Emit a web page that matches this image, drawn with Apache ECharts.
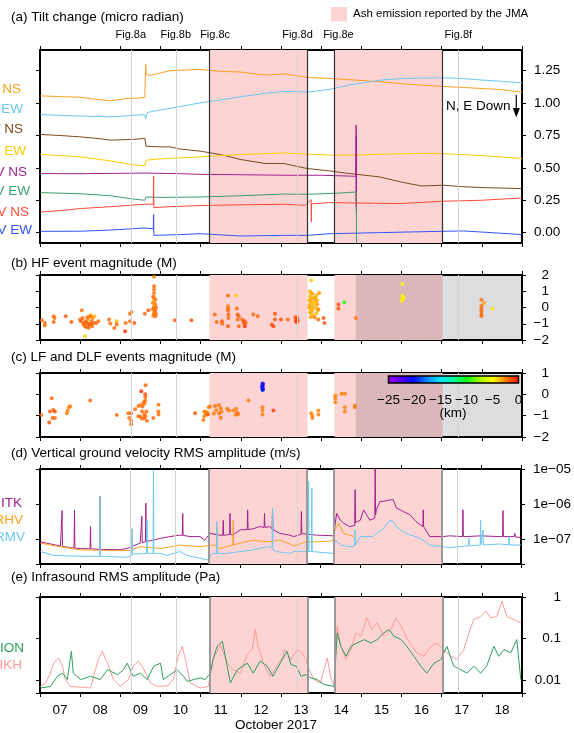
<!DOCTYPE html>
<html><head><meta charset="utf-8">
<script src="https://cdn.jsdelivr.net/npm/echarts@6/dist/echarts.min.js"></script>
<style>html,body{margin:0;padding:0;background:#fff}#c{width:574px;height:733px}</style>
</head><body><div id="c"></div><script>
// ===== data (time = days since 2017-10-07 00:00) =====
const dayLabels = ['07','08','09','10','11','12','13','14','15','16','17','18'];
const figLabels = ['Fig.8a','Fig.8b','Fig.8c','Fig.8d','Fig.8e','Fig.8f'];
const figTimes = [2.26, 3.38, 4.36, 6.41, 7.43, 10.415];
const figLineShown = [true, true, false, true, false, true];
const ashPeriods = [[4.22, 6.66], [7.33, 10.02]];
const noDataPeriod = [7.86, 12];
const tiltTicks = [0, 0.25, 0.5, 0.75, 1.0, 1.25];
const depthTicks = [-25, -20, -15, -10, -5, 0];
const depthColors = ['#a000ff','#5a00ff','#0010ff','#0088ff','#00e8ff','#00ff9a','#10ff10','#a0ff00','#ffff00','#ff7a00','#ff1000'];

const tiltNames = ['SMN NS','SMN EW','SMW NS','SMW EW','RHV NS','RHV EW','RMV NS','RMV EW'];
const tiltColors = ['#ffa020','#6cc8f5','#7a4a1e','#ffcc00','#a3218e','#3a9e6a','#ff4a3a','#3355ff'];
const tilt1 = [[0.01,1.056],[0.51,1.05],[1.01,1.045],[1.38,1.03],[1.75,1.018],[2.13,1.035],[2.5,1.04],[2.61,1.046],[2.63,1.30],[2.645,1.22],[2.75,1.215],[3.24,1.25],[3.99,1.26],[4.49,1.245],[4.99,1.24],[5.36,1.225],[5.6,1.217],[6.08,1.225],[6.65,1.199],[7.22,1.19],[7.84,1.178],[8.46,1.165],[9.21,1.145],[9.96,1.13],[10.7,1.118],[11.45,1.105],[12.0,1.085]];
const tilt2 = [[0.01,0.912],[0.5,0.905],[1.0,0.9],[1.75,0.894],[2.3,0.905],[2.6,0.912],[2.63,0.879],[2.67,0.925],[2.75,0.933],[3.25,0.96],[3.99,1.002],[4.5,1.025],[4.99,1.049],[5.6,1.075],[6.08,1.09],[6.5,1.088],[6.66,1.085],[7.2,1.105],[7.7,1.14],[8.5,1.178],[9.0,1.19],[9.5,1.193],[10.0,1.196],[10.5,1.19],[11.0,1.178],[11.5,1.168],[12.0,1.157]];
const tilt3 = [[0.01,0.758],[0.5,0.75],[1.01,0.739],[1.5,0.725],[1.75,0.714],[2.3,0.72],[2.61,0.727],[2.64,0.667],[3.0,0.662],[3.24,0.662],[3.5,0.645],[3.99,0.629],[4.49,0.603],[4.99,0.565],[5.6,0.534],[6.08,0.533],[6.65,0.495],[7.2,0.477],[7.6,0.46],[8.46,0.43],[9.0,0.39],[9.5,0.36],[10.05,0.366],[10.5,0.355],[11.0,0.348],[11.5,0.344],[12.0,0.34]];
const tilt4 = [[0.01,0.603],[0.5,0.595],[1.01,0.585],[1.75,0.554],[2.3,0.525],[2.61,0.515],[2.64,0.559],[3.0,0.57],[3.99,0.585],[4.99,0.603],[6.08,0.615],[7.2,0.598],[8.0,0.6],[8.46,0.605],[9.5,0.612],[10.0,0.61],[11.0,0.595],[12.0,0.572]];
const tilt5 = [[0.01,0.456],[1.0,0.455],[2.0,0.458],[2.61,0.46],[3.5,0.455],[3.99,0.45],[5.0,0.447],[6.08,0.443],[7.0,0.443],[7.86,0.435],[7.87,0.83],[7.873,0.2],[7.876,0.75],[7.879,0.15],[7.882,0.6]];
const tilt6 = [[0.01,0.309],[0.5,0.305],[1.01,0.3],[1.75,0.285],[2.3,0.26],[2.61,0.25],[2.64,0.275],[3.0,0.272],[3.99,0.275],[5.0,0.285],[6.08,0.298],[6.65,0.296],[7.5,0.306],[7.87,0.314],[7.883,-0.1]];
const tilt7 = [[0.01,0.159],[0.5,0.17],[1.01,0.186],[1.75,0.2],[2.61,0.219],[2.82,0.22],[2.83,0.435],[2.835,0.193],[3.2,0.2],[3.99,0.209],[5.0,0.215],[6.08,0.219],[6.6,0.211],[6.75,0.255],[6.755,0.082],[6.76,0.222],[7.2,0.232],[8.46,0.226],[9.0,0.225],[10.0,0.242],[11.0,0.25],[12.0,0.268]];
const tilt8 = [[0.01,0.01],[1.01,0.011],[1.75,0.02],[2.3,0.03],[2.6,0.036],[2.82,0.03],[2.83,0.139],[2.835,-0.021],[3.5,-0.015],[3.99,-0.008],[4.99,-0.026],[6.08,-0.021],[6.65,-0.021],[7.22,-0.008],[8.46,0.0],[9.96,0.01],[10.55,0.013],[11.5,-0.005],[12.0,-0.015]];
const tiltData = [tilt1,tilt2,tilt3,tilt4,tilt5,tilt6,tilt7,tilt8];

// [time, magnitude, depth km]
const hfEvents = [[0.045,-0.78,-2],[0.12,-0.95,-2],[0.12,-1.1,-2.2],[0.34,-0.54,-2],[0.36,-0.64,-2.2],[0.34,-0.89,-2],[0.64,-0.54,-1.5],[0.78,-0.89,-1.5],
[1.04,-0.17,-2.3],[1.0,-0.74,-2],[1.06,-0.64,-2],[1.02,-0.85,-1.5],[1.08,-1.05,-2],[1.12,-1.15,-2.2],[1.14,-0.85,-2],[1.17,-0.95,-1.5],[1.2,-0.74,-3],[1.22,-1.05,-2],[1.25,-0.48,-4],[1.24,-1.05,-2],[1.26,-0.54,-2],[1.29,-0.85,-2],[1.31,-0.64,-2.5],[1.34,-0.95,-2],[1.35,-0.54,-3.5],[1.4,-0.95,-2],[1.3,-1.15,-2],[1.21,-1.25,-1.5],[1.15,-1.2,-2],[1.12,-1.77,-4],[1.27,-1.0,-2],[1.18,-0.6,-2],[1.1,-0.95,-1.8],[1.45,-0.85,-2],
[1.72,-0.74,-2],[1.75,-0.99,-2],[1.85,-1.26,-2],[1.91,-0.85,-3.5],[1.91,-1.05,-2],[2.12,-1.46,-0.5],[2.13,-0.95,-2],[2.24,-0.85,-2],[2.24,-0.38,-2],[2.28,-0.27,-2.5],[2.35,-0.95,-1.5],[2.61,-0.38,-2],[2.7,-0.17,-1.5],
[2.84,1.89,-2.5],[2.84,1.31,-2.2],[2.84,1.11,-2.2],[2.84,0.9,-2.2],[2.83,0.59,-2.5],[2.87,0.5,-2],[2.81,0.3,-2.5],[2.87,0.2,-2.2],[2.84,0.1,-3],[2.89,0.0,-2],[2.81,-0.1,-2.5],[2.87,-0.2,-2.2],[2.84,-0.35,-2],[2.89,-0.4,-2.2],[2.87,-0.54,-2],[2.82,-0.5,-2.5],[2.85,0.4,-3],[2.82,0.7,-2.2],[2.86,-0.25,-2.5],[2.83,-0.05,-2.2],
[3.36,-0.78,-1.5],[3.77,-0.78,-1.5],
[4.35,-0.43,-2],[4.40,-0.89,-2],[4.53,-0.85,-1.5],[4.54,-1.0,-2],[4.68,0.74,-2],[4.88,0.74,-4],[4.68,0.08,-2.5],[4.68,-0.06,-2.2],[4.68,-0.19,-2],[4.69,-0.43,-1.8],[4.69,-0.64,-2],[4.68,-1.15,-1.5],[4.9,-0.06,-2],[4.92,-0.43,-1.5],[4.95,-0.54,-2],[4.92,-0.74,-2],[4.95,-1.15,-2],[5.03,-0.74,-2],[5.07,-0.95,-1.5],[5.09,-0.85,-1.2],[5.12,-0.95,-2],[5.1,-1.15,-0.5],[5.31,-0.43,-2],[5.42,-0.54,-2],[5.85,-0.38,-1.5],[5.81,-1.15,-1],[5.77,-1.05,-1.5],[5.85,-0.74,-1.5],[6.0,-0.74,-1.5],[6.17,-0.74,-2],[6.36,-0.6,-1.5],[6.38,-0.75,-1],[6.4,-0.65,-1.5],[6.37,-0.85,-1.2],[6.42,-0.8,-1.8],[6.39,-0.9,-1],
[6.75,1.68,-4],[6.72,1.0,-3.5],[6.75,0.9,-3.5],[6.78,0.85,-3.2],[6.72,0.7,-3.5],[6.76,0.6,-3.8],[6.8,0.55,-3.5],[6.7,0.45,-3.5],[6.74,0.4,-3.2],[6.78,0.3,-3.8],[6.72,0.2,-3.5],[6.76,0.1,-3.5],[6.7,0.0,-3.2],[6.8,0.0,-3.5],[6.74,-0.1,-3.8],[6.78,-0.2,-3.5],[6.72,-0.3,-3.2],[6.76,-0.4,-3.5],[6.8,-0.5,-3.8],[6.74,-0.6,-3.2],[6.85,0.6,-3],[6.88,0.75,-3.5],[6.86,0.4,-3.2],[6.9,0.2,-3],[6.87,0.0,-3.5],[6.92,-0.15,-3],[6.88,-0.35,-3.5],[6.9,0.45,-3.5],[6.95,0.9,-3],[6.93,-0.1,-3],[6.84,-0.6,-2.5],[6.82,0.25,-3.8],
[6.93,-0.74,-2],[7.06,-0.64,-1.5],[7.08,-0.95,-1.5],[7.43,0.18,-1.5],[7.43,-0.06,-1.5],[7.58,0.33,-10],[7.86,-0.64,-2.2],
[9.02,1.44,-5],[9.02,0.72,-4.8],[9.05,0.6,-4.8],[9.02,0.51,-4.8],[9.01,0.41,-4.7],
[10.99,0.47,-2.2],[11.05,0.27,-3],[10.99,0.1,-2.2],[10.99,-0.07,-2.2],[10.99,-0.23,-2],[10.99,-0.4,-2.2],[10.99,-0.52,-2],[11.26,-0.07,-4.5]];

const lfEvents = [[0.03,-0.97,-2],[0.29,-0.18,-2],[0.25,-0.8,-1.5],[0.33,-0.73,-2],[0.37,-0.8,-1.2],[0.31,-1.11,-2],[0.37,-1.11,-2],[0.23,-1.32,-1.5],[0.67,-0.89,-2.5],[0.69,-0.76,-2.5],[0.72,-0.6,-2.5],[0.75,-0.56,-2.5],[1.25,-0.29,-2],[1.91,-0.97,-2],
[2.2,-0.89,-2],[2.27,-0.89,-2],[2.22,-1.11,-2.2],[2.27,-1.24,-2],[2.27,-1.4,-2.2],
[2.37,-0.7,-2],[2.45,-0.55,-2],[2.5,-0.5,-2.5],[2.54,-0.8,-2],[2.45,-1.03,-2],[2.6,-0.94,-2.2],[2.6,-1.11,-2],[2.66,-1.24,-2],[2.5,-1.05,-2],[2.54,-1.15,-2],
[2.52,0.14,-0.5],[2.63,0.43,-2],[2.62,0.0,-1.5],[2.62,-0.13,-2],[2.62,-0.29,-2.2],[2.58,-0.37,-2],[2.6,-0.44,-2.2],[2.55,-0.57,-1.8],[2.65,-0.8,-2],[2.62,-1.03,-2],[2.82,-1.11,-2],[2.95,-0.49,-2],[2.95,-0.8,-2],[2.95,-0.95,-2.2],[3.86,-0.89,-1.5],
[4.09,-0.8,-2.5],[4.13,-0.89,-2.2],[4.09,-1.03,-2.5],[4.17,-0.94,-2],[4.07,-1.2,-2.2],[4.23,-0.57,-2.5],
[4.2,-0.6,-2.5],[4.16,-0.84,-2.5],[4.18,-0.94,-2.2],[4.36,-0.55,-2],[4.33,-0.9,-2.5],[4.39,-0.75,-2.5],[4.46,-0.5,-2.5],[4.5,-0.65,-2.5],[4.52,-0.8,-2.5],[4.46,-0.9,-2.2],[4.5,-1.1,-2.2],[4.66,-0.68,-2.5],[4.7,-0.76,-2.5],[4.81,-0.76,-2.5],[4.88,-0.68,-2.5],[4.91,-0.85,-2.2],[4.87,-0.96,-2.5],[4.93,-0.93,-2.2],[5.19,-0.29,-2.5],
[5.54,0.51,-20],[5.54,0.44,-20.5],[5.54,0.38,-19.5],[5.54,0.32,-20],[5.54,0.26,-20.5],[5.54,0.2,-19.5],[5.55,0.48,-21],[5.53,0.35,-21],[5.55,0.23,-20],
[5.54,-0.6,-2.5],[5.54,-0.76,-2.5],[5.54,-0.94,-2.5],[5.81,-0.76,-1],
[6.75,-0.89,-2.5],[6.78,-1.0,-2.5],[6.78,-1.11,-2.5],[6.93,-0.76,-2.5],[6.93,-0.94,-2.5],[7.35,-0.05,-2.5],[7.35,-0.2,-2.5],[7.35,-0.37,-2.5],[7.51,0.03,-2.5],[7.59,0.03,-2.5],[7.59,-0.6,-2.5],[7.59,-0.8,-2.5],[7.84,-0.52,-2.5],[7.84,-0.6,-2.5]];

// vertical ground velocity RMS (m/s)
const velITK = [[0.01,8.5e-8],[0.26,7.4e-8],[0.51,6.5e-8],[0.54,6.5e-8],[0.55,6.6e-7],[0.56,6.3e-8],[0.76,5.8e-8],[0.85,5.7e-8],[0.86,6.9e-7],[0.87,5.6e-8],[1.01,5.5e-8],[1.25,5.4e-8],[1.26,2.3e-7],[1.27,5.4e-8],[1.49,5.2e-8],[1.5,1.66e-6],[1.51,5.2e-8],[1.75,5.1e-8],[2.0,5.1e-8],[2.17,5.5e-8],[2.32,6.5e-8],[2.5,7.8e-8],[2.53,8e-8],[2.54,4.5e-7],[2.55,8e-8],[2.63,8.5e-8],[2.64,1.07e-6],[2.65,8.8e-8],[2.75,9.1e-8],[3.0,1.07e-7],[3.24,1.2e-7],[3.49,1.32e-7],[3.55,1.3e-7],[3.56,5.5e-7],[3.57,1.3e-7],[3.74,1.2e-7],[3.99,1.2e-7],[4.11,9.5e-8],[4.24,1.48e-7],[4.49,1.32e-7],[4.56,1.3e-7],[4.57,3.5e-7],[4.58,1.3e-7],[4.73,1.4e-7],[4.74,5.5e-7],[4.75,1.4e-7],[4.81,1.32e-7],[4.99,1.86e-7],[5.17,1.9e-7],[5.18,6.9e-7],[5.19,1.9e-7],[5.31,2.0e-7],[5.48,2.3e-7],[5.59,2.2e-7],[5.6,5.5e-7],[5.61,2.2e-7],[5.73,2.3e-7],[5.79,2.0e-7],[5.8,7.8e-7],[5.81,1.9e-7],[5.98,1.48e-7],[6.23,1.32e-7],[6.33,1.2e-7],[6.51,1.4e-7],[6.52,6.2e-7],[6.53,1.45e-7],[6.57,1.48e-7],[6.9,1.32e-7],[7.32,1.26e-7],[7.4,5.5e-7],[7.49,3.5e-7],[7.57,2.9e-7],[7.72,2.3e-7],[7.85,2.5e-7],[7.86,2.6e-6],[7.87,3e-7],[7.99,3.5e-7],[8.07,6.9e-7],[8.23,3.5e-7],[8.35,4e-7],[8.36,1.07e-5],[8.37,5e-7],[8.39,6.9e-7],[8.48,1.2e-6],[8.56,1.2e-6],[8.73,1.32e-6],[8.81,1.35e-6],[8.89,7.8e-7],[9.06,6.2e-7],[9.23,5.0e-7],[9.38,3.2e-7],[9.55,2.3e-7],[9.56,6.9e-7],[9.57,2.3e-7],[9.72,1.2e-7],[10.05,1.2e-7],[10.22,1.26e-7],[10.54,1.2e-7],[10.55,6.9e-7],[10.56,1.2e-7],[10.63,1.2e-7],[10.99,1.26e-7],[11.46,1.2e-7],[11.54,1.2e-7],[11.55,6.6e-7],[11.56,1.2e-7],[11.83,1.2e-7],[11.84,1.48e-7],[11.87,1.15e-7],[12.0,1.15e-7]];
const velRHV = [[0.01,7.8e-8],[0.5,6.2e-8],[1.01,5.0e-8],[1.49,4.9e-8],[1.5,1.66e-6],[1.51,4.9e-8],[1.75,4.8e-8],[2.17,4.8e-8],[2.29,5e-8],[2.3,2.0e-7],[2.31,5.2e-8],[2.5,6.2e-8],[3.0,5.5e-8],[3.49,6.9e-8],[3.99,6.2e-8],[4.31,6.9e-8],[4.4,6.5e-8],[4.41,2.5e-7],[4.42,6e-8],[4.49,5.5e-8],[4.81,6.9e-8],[4.82,3.5e-7],[4.83,7e-8],[5.31,9.5e-8],[5.66,8.5e-8],[5.98,9.5e-8],[6.23,7.4e-8],[6.33,6.5e-8],[6.57,8e-8],[6.65,8.5e-8],[6.9,8.5e-8],[7.3,9.1e-8],[7.36,1.86e-7],[7.45,2.9e-7],[7.57,1.48e-7],[7.72,1.32e-7],[7.84,1.2e-7]];
const velRMV = [[0.01,4.5e-8],[0.34,3.5e-8],[1.01,3.3e-8],[1.49,3.3e-8],[1.5,1.66e-6],[1.51,3.3e-8],[2.17,3.1e-8],[2.29,3.5e-8],[2.3,2.0e-7],[2.31,3.8e-8],[2.32,4.0e-8],[2.66,4e-8],[2.67,3.5e-7],[2.68,4e-8],[2.82,4e-8],[2.83,9.5e-6],[2.84,4e-8],[3.0,4.0e-8],[3.17,3.5e-8],[3.49,4.5e-8],[3.67,3.5e-8],[3.99,2.9e-8],[4.19,2.6e-8],[4.31,4.0e-8],[4.4,4e-8],[4.41,3.2e-7],[4.42,4e-8],[4.66,4.0e-8],[4.99,4.5e-8],[5.31,5.0e-8],[5.66,6.2e-8],[5.79,6e-8],[5.8,7.8e-7],[5.81,5e-8],[5.9,4.5e-8],[6.23,4.0e-8],[6.33,4.5e-8],[6.57,4.5e-8],[6.69,4.5e-8],[6.7,4.5e-6],[6.71,4.5e-8],[6.77,4.5e-8],[6.78,2.9e-6],[6.79,4.5e-8],[6.82,4.5e-8],[7.32,4.0e-8],[7.36,9.5e-8],[7.5,6.9e-8],[7.72,6.2e-8],[7.85,6.5e-8],[7.86,1.86e-7],[7.87,7e-8],[7.99,1.2e-7],[8.31,1.2e-7],[8.39,1.48e-7],[8.56,2.0e-7],[8.73,3.5e-7],[8.81,3.2e-7],[8.89,2.3e-7],[9.06,1.66e-7],[9.23,1.32e-7],[9.38,1.2e-7],[9.56,9.5e-8],[9.72,6.9e-8],[10.05,6.2e-8],[10.22,5.8e-8],[10.63,6.5e-8],[10.69,6.5e-8],[10.7,1.07e-7],[10.71,6.5e-8],[10.98,6.9e-8],[10.99,3.5e-7],[11.0,6.9e-8],[11.04,6.9e-8],[11.05,1.86e-7],[11.06,6.9e-8],[11.46,7.4e-8],[11.69,7e-8],[11.7,1.2e-7],[11.71,7e-8],[11.87,6.9e-8],[12.0,6.9e-8]];

// infrasound RMS (Pa)
const infIKH = [[0.01,0.0072],[0.14,0.0087],[0.26,0.015],[0.34,0.026],[0.46,0.035],[0.56,0.022],[0.63,0.0105],[0.76,0.0072],[1.01,0.0069],[1.26,0.0066],[1.38,0.018],[1.45,0.032],[1.55,0.05],[1.68,0.026],[1.83,0.0105],[2.0,0.0072],[2.2,0.0105],[2.32,0.022],[2.45,0.029],[2.57,0.02],[2.75,0.0087],[2.92,0.0072],[3.17,0.0074],[3.32,0.0105],[3.44,0.038],[3.54,0.066],[3.62,0.032],[3.74,0.0087],[3.99,0.0066],[4.19,0.0072],[4.31,0.032],[4.49,0.072],[4.66,0.026],[4.81,0.018],[4.99,0.015],[5.16,0.042],[5.28,0.055],[5.36,0.166],[5.43,0.066],[5.56,0.026],[5.73,0.0126],[5.9,0.022],[6.05,0.038],[6.08,0.055],[6.25,0.032],[6.4,0.055],[6.52,0.046],[6.62,0.032],[6.7,0.018],[6.82,0.0105],[6.98,0.0087],[7.15,0.035],[7.25,0.0105],[7.32,0.008],[7.4,0.2],[7.49,0.066],[7.62,0.032],[7.74,0.055],[7.87,0.138],[7.99,0.115],[8.14,0.316],[8.26,0.166],[8.39,0.24],[8.56,0.115],[8.74,0.166],[8.86,0.316],[8.99,0.2],[9.11,0.115],[9.26,0.066],[9.38,0.046],[9.56,0.038],[9.73,0.066],[9.88,0.079],[10.05,0.055],[10.23,0.038],[10.38,0.032],[10.55,0.055],[10.68,0.138],[10.8,0.29],[10.97,0.34],[11.1,0.46],[11.22,0.316],[11.37,0.34],[11.5,0.79],[11.62,0.34],[11.79,0.29],[11.97,0.24]];
const infION = [[0.01,0.0066],[0.26,0.0072],[0.43,0.0126],[0.56,0.015],[0.68,0.0105],[0.78,0.05],[0.83,0.015],[1.01,0.0105],[1.26,0.0126],[1.5,0.0105],[1.68,0.018],[1.93,0.0138],[2.08,0.018],[2.17,0.026],[2.32,0.0126],[2.5,0.015],[2.67,0.0105],[2.83,0.022],[3.0,0.026],[3.07,0.0105],[3.24,0.0138],[3.42,0.018],[3.57,0.0126],[3.67,0.0095],[3.82,0.0105],[3.99,0.0115],[4.11,0.0105],[4.24,0.015],[4.31,0.032],[4.41,0.066],[4.54,0.087],[4.66,0.022],[4.74,0.0087],[4.91,0.018],[5.16,0.026],[5.31,0.015],[5.48,0.029],[5.66,0.022],[5.8,0.0126],[5.98,0.026],[6.15,0.05],[6.25,0.024],[6.38,0.022],[6.5,0.0126],[6.62,0.0138],[6.75,0.0115],[6.9,0.0105],[7.07,0.008],[7.25,0.0074],[7.32,0.0072],[7.4,0.138],[7.49,0.066],[7.62,0.038],[7.74,0.066],[7.89,0.079],[8.07,0.095],[8.24,0.079],[8.39,0.095],[8.56,0.138],[8.69,0.166],[8.81,0.115],[8.99,0.095],[9.13,0.066],[9.31,0.038],[9.48,0.022],[9.63,0.015],[9.81,0.026],[9.98,0.032],[10.13,0.066],[10.3,0.022],[10.48,0.018],[10.63,0.015],[10.8,0.022],[10.97,0.015],[11.12,0.022],[11.3,0.066],[11.42,0.038],[11.55,0.055],[11.72,0.046],[11.87,0.095],[11.97,0.0105]];

// ===== chart =====
const FONT = '"Liberation Sans", Arial, Helvetica, sans-serif';
const FS = 13.5;
const PINK = '#fdd4d4';
const chart = echarts.init(document.getElementById('c'), null, {renderer: 'canvas'});

const grids = [
  {left: 40, top: 50, width: 482, height: 193},
  {left: 40, top: 275, width: 482, height: 65},
  {left: 40, top: 373, width: 482, height: 64},
  {left: 40, top: 469, width: 482, height: 95},
  {left: 40, top: 597, width: 482, height: 96}
];

const axLine = {show: true, onZero: false, lineStyle: {color: '#000', width: 2}};
const axTick = {show: true, inside: false, length: 4, lineStyle: {color: '#000', width: 1}};
const lbl = {fontFamily: FONT, fontSize: FS, color: '#000'};

const xAxes = [];
grids.forEach((g, i) => {
  const base = {type: 'value', gridIndex: i, min: 0, max: 12, interval: 1,
    axisLine: axLine, axisTick: axTick, splitLine: {show: false}, axisLabel: {show: false}};
  const bottom = Object.assign({}, base, {position: 'bottom'});
  const top = Object.assign({}, base, {position: 'top'});
  if (i === 4) {
    bottom.axisLabel = Object.assign({show: true, margin: 10,
      customValues: dayLabels.map((d, k) => k + 0.5),
      formatter: v => dayLabels[Math.floor(v)]}, lbl);
    bottom.name = 'October 2017';
    bottom.nameLocation = 'middle';
    bottom.nameGap = 25;
    bottom.nameTextStyle = {fontFamily: FONT, fontSize: FS, color: '#000', padding: [0, 10, 0, 0]};
  }
  if (i === 0) {
    top.axisLabel = {show: true, margin: 10, fontFamily: FONT, fontSize: 11, color: '#000',
      customValues: figTimes,
      formatter: v => { const k = figTimes.findIndex(t => Math.abs(t - v) < 1e-6); return k >= 0 ? figLabels[k] : ''; }};
  }
  xAxes.push(bottom, top);
});

const minus = s => String(s).replace('-', '\u2212');
const yDefs = [
  {type: 'value', min: -0.08, max: 1.41, custom: tiltTicks, fmt: v => v.toFixed(2), align: 'left', margin: 12},
  {type: 'value', min: -2, max: 2, interval: 1, fmt: v => minus(v), align: 'right', margin: 27},
  {type: 'value', min: -2, max: 1, interval: 1, fmt: v => minus(v), align: 'right', margin: 27},
  {type: 'log', min: Math.pow(10, -7.7), max: 1e-5,
    fmt: v => { const e = Math.log10(v); if (Math.abs(e - Math.round(e)) > 1e-6) return ''; return '1e\u2212' + String(-Math.round(e)).padStart(2, '0'); },
    align: 'left', margin: 12},
  {type: 'log', min: Math.pow(10, -2.3), max: 1,
    fmt: v => { const e = Math.log10(v); if (Math.abs(e - Math.round(e)) > 1e-6) return ''; const n = Math.round(e); return n === 0 ? '1' : (n === -1 ? '0.1' : '0.01'); },
    align: 'right', margin: 39}
];
const yAxes = [];
yDefs.forEach((d, i) => {
  const base = {type: d.type, gridIndex: i, min: d.min, max: d.max,
    axisLine: axLine, splitLine: {show: false}, axisTick: Object.assign({}, axTick)};
  if (d.type === 'log') base.logBase = 10;
  if (d.interval) base.interval = d.interval;
  if (d.custom) base.axisTick.customValues = d.custom;
  const left = Object.assign({}, base, {position: 'left', axisLabel: {show: false}});
  const rightLbl = Object.assign({show: true, margin: d.margin, align: d.align, formatter: d.fmt}, lbl);
  if (d.custom) rightLbl.customValues = d.custom;
  const right = Object.assign({}, base, {position: 'right', axisLabel: rightLbl});
  yAxes.push(left, right);
});

const series = [];
// background shading and vertical reference lines
grids.forEach((g, i) => {
  const areas = ashPeriods.map(p => [{xAxis: p[0]}, {xAxis: p[1]}]);
  if (i === 1 || i === 2) {
    areas.push([{xAxis: noDataPeriod[0], itemStyle: {color: 'rgba(0,0,12,0.135)'}}, {xAxis: noDataPeriod[1]}]);
  }
  const lines = [];
  figTimes.forEach((t, k) => { if (figLineShown[k]) lines.push({xAxis: t, lineStyle: {color: '#d4d4d4', width: 1, type: 'solid'}}); });
  if (i === 0 || i >= 3) {
    const st = i === 0 ? {color: '#333', width: 1.2, type: 'solid'} : {color: '#9a9a9a', width: 2, type: 'solid'};
    ashPeriods.forEach(p => { lines.push({xAxis: p[0], lineStyle: st}); lines.push({xAxis: p[1], lineStyle: st}); });
  }
  series.push({type: 'line', xAxisIndex: 2 * i, yAxisIndex: 2 * i + 1, data: [], silent: true, z: 1,
    markArea: {silent: true, itemStyle: {color: PINK}, data: areas},
    markLine: {silent: true, symbol: ['none', 'none'], label: {show: false}, data: lines}});
});
// tilt
tiltData.forEach((d, k) => {
  series.push({type: 'line', name: tiltNames[k], xAxisIndex: 0, yAxisIndex: 1, data: d, showSymbol: false,
    lineStyle: {color: tiltColors[k], width: 1}, z: 3});
});
// events
const hfIndex = series.length;
series.push({type: 'scatter', xAxisIndex: 2, yAxisIndex: 3, data: hfEvents, symbolSize: 4, z: 3, encode: {x: 0, y: 1}});
const lfIndex = series.length;
series.push({type: 'scatter', xAxisIndex: 4, yAxisIndex: 5, data: lfEvents, symbolSize: 4, z: 3, encode: {x: 0, y: 1}});
// velocity
const velColors = {ITK: '#a3218e', RHV: '#ffa01e', RMV: '#6cc8f5'};
[['ITK', velITK], ['RHV', velRHV], ['RMV', velRMV]].forEach(([n, d]) => {
  series.push({type: 'line', name: n, xAxisIndex: 6, yAxisIndex: 7, data: d, showSymbol: false,
    lineStyle: {color: velColors[n], width: 1}, z: 3});
});
// infrasound
const infColors = {IKH: '#ff9a9a', ION: '#2e9e5e'};
[['IKH', infIKH], ['ION', infION]].forEach(([n, d]) => {
  series.push({type: 'line', name: n, xAxisIndex: 8, yAxisIndex: 9, data: d, showSymbol: false,
    lineStyle: {color: infColors[n], width: 1}, z: 3});
});

function txt(x, y, text, opt) {
  opt = opt || {};
  return {type: 'text', x: x, y: y, z: 100, silent: true,
    style: {text: text, fill: opt.color || '#000', font: (opt.size || FS) + 'px ' + FONT,
      textAlign: opt.align || 'left', align: opt.align || 'left',
      textVerticalAlign: 'middle', verticalAlign: 'middle'}};
}
const graphics = [];
graphics.push(txt(11, 17, '(a) Tilt change (micro radian)'));
graphics.push(txt(11, 263, '(b) HF event magnitude (M)'));
graphics.push(txt(11, 357, '(c) LF and DLF events magnitude (M)'));
graphics.push(txt(11, 453, '(d) Vertical ground velocity RMS amplitude (m/s)'));
graphics.push(txt(11, 577, '(e) Infrasound RMS amplitude (Pa)'));
// ash legend
graphics.push({type: 'rect', z: 100, shape: {x: 331, y: 7, width: 16, height: 14.5}, style: {fill: PINK}});
graphics.push(txt(353, 14, 'Ash emission reported by the JMA', {size: 11.5}));
// N, E Down
graphics.push(txt(446, 106, 'N, E Down'));
graphics.push({type: 'line', z: 100, shape: {x1: 516.3, y1: 95, x2: 516.3, y2: 110}, style: {stroke: '#000', lineWidth: 1.2}});
graphics.push({type: 'polygon', z: 100, shape: {points: [[512.8, 108], [519.8, 108], [516.3, 117.5]]}, style: {fill: '#000'}});
// tilt station labels (clipped at left edge like the original)
const tiltLabelX = [21, 23, 23, 26, 27, 30, 29, 32];
const tiltLabelY = [89, 109, 129, 151, 172, 191, 212, 230];
tiltNames.forEach((n, k) => graphics.push(txt(tiltLabelX[k], tiltLabelY[k], n, {color: tiltColors[k], align: 'right'})));
// velocity & infrasound station labels
graphics.push(txt(22, 503, 'ITK', {color: velColors.ITK, align: 'right'}));
graphics.push(txt(23, 520, 'RHV', {color: velColors.RHV, align: 'right'}));
graphics.push(txt(25, 537, 'RMV', {color: velColors.RMV, align: 'right'}));
graphics.push(txt(24, 648, 'ION', {color: infColors.ION, align: 'right'}));
graphics.push(txt(22, 665, 'IKH', {color: infColors.IKH, align: 'right'}));
// depth colour bar
const cbX = 388.5, cbW = 130, cbY = 376, cbH = 7;
graphics.push({type: 'rect', z: 100, shape: {x: cbX, y: cbY, width: cbW, height: cbH},
  style: {fill: new echarts.graphic.LinearGradient(0, 0, 1, 0, depthColors.map((c, k) => ({offset: k / (depthColors.length - 1), color: c}))),
    stroke: '#000', lineWidth: 1.5}});
depthTicks.forEach(v => {
  const x = cbX + (v - depthTicks[0]) / (depthTicks[depthTicks.length - 1] - depthTicks[0]) * cbW;
  graphics.push(txt(x, 400, minus(v), {align: 'center'}));
});
graphics.push(txt(453, 413, '(km)', {align: 'center'}));

chart.setOption({
  animation: false,
  backgroundColor: '#fff',
  grid: grids,
  xAxis: xAxes,
  yAxis: yAxes,
  visualMap: [{type: 'continuous', show: false, min: -25, max: 0, dimension: 2,
    seriesIndex: [hfIndex, lfIndex], inRange: {color: depthColors}}],
  series: series,
  graphic: graphics
});
</script></body></html>
